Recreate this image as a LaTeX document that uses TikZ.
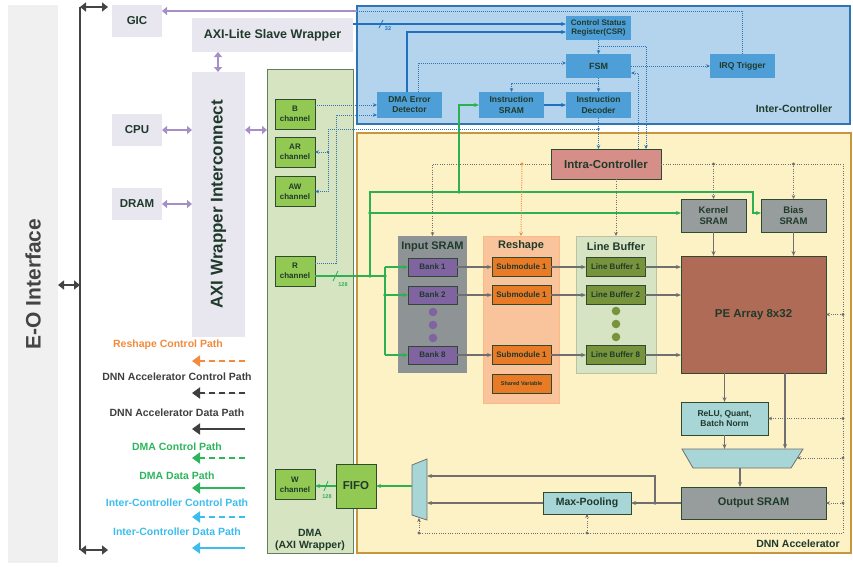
\documentclass[tikz,border=0pt]{standalone}
\usepackage{fontspec}
\setmainfont{Liberation Sans}
\usetikzlibrary{arrows.meta}

\definecolor{txt}{HTML}{1F3A2B}
\definecolor{eobg}{HTML}{F0F0F0}
\definecolor{eotxt}{HTML}{444444}
\definecolor{lavbg}{HTML}{E8E6EE}
\definecolor{purp}{HTML}{A58FC6}
\definecolor{busgrey}{HTML}{444444}
\definecolor{dmabg}{HTML}{D6E4C1}
\definecolor{dmaline}{HTML}{5F7F5F}
\definecolor{chanfill}{HTML}{92C953}
\definecolor{boxline}{HTML}{2F4A2F}
\definecolor{interbg}{HTML}{B3D4EC}
\definecolor{interline}{HTML}{2E75B6}
\definecolor{bluefill}{HTML}{4E9FD8}
\definecolor{dnnbg}{HTML}{FDF1C6}
\definecolor{dnnline}{HTML}{C8963E}
\definecolor{intrafill}{HTML}{D58F88}
\definecolor{sramfill}{HTML}{979C9C}
\definecolor{insgrp}{HTML}{8E9495}
\definecolor{bankfill}{HTML}{8063A1}
\definecolor{resgrp}{HTML}{F9C49B}
\definecolor{subfill}{HTML}{E97A26}
\definecolor{lbgrp}{HTML}{D7E4C4}
\definecolor{lbfill}{HTML}{77933C}
\definecolor{pefill}{HTML}{B06B56}
\definecolor{tealfill}{HTML}{A8D5D6}
\definecolor{datgrey}{HTML}{6F6F6F}
\definecolor{gpath}{HTML}{2DB052}
\definecolor{bpath}{HTML}{1F70C1}
\definecolor{legorange}{HTML}{F18B3D}
\definecolor{legdark}{HTML}{3F3F3F}
\definecolor{leggreen}{HTML}{2DB55C}
\definecolor{legcyan}{HTML}{3CBDEE}

\newcommand{\fsz}[1]{\fontsize{#1pt}{\dimexpr#1pt*6/5\relax}\selectfont}

\tikzset{
  box/.style={inner sep=0pt, outer sep=0pt, text=txt, align=center},
  fs/.style={font=\bfseries\fsz{#1}},
  lavbox/.style={box, fill=lavbg},
  blubox/.style={box, fill=bluefill, fs=8.5, minimum width=65pt, minimum height=25pt},
  chanbox/.style={box, draw=boxline, line width=0.8pt, fill=chanfill, fs=8, minimum width=40pt, minimum height=30pt},
  darkbox/.style={box, draw=boxline, line width=0.9pt},
  bankbox/.style={darkbox, fill=bankfill, fs=8, minimum width=49pt, minimum height=18pt},
  subbox/.style={darkbox, fill=subfill, fs=8, minimum width=59pt, minimum height=19pt},
  lbbox/.style={darkbox, fill=lbfill, fs=8, minimum width=59pt, minimum height=19pt},
  purarrow/.style={draw=purp, line width=2.4pt, {Triangle[length=5pt,width=8pt]}-{Triangle[length=5pt,width=8pt]}},
  bus/.style={draw=busgrey, line width=2.6pt},
  busarrow/.style={bus, {Triangle[length=6pt,width=9pt]}-{Triangle[length=6pt,width=9pt]}},
  ctl/.style={draw=interline, line width=1pt, dash pattern=on 1pt off 1pt, -{Stealth[length=4pt,width=3.5pt]}},
  dat/.style={draw=bpath, line width=1.1pt, -{Stealth[length=5pt,width=4pt]}},
  gdat/.style={draw=gpath, line width=1.1pt, -{Stealth[length=5pt,width=4pt]}},
  kdat/.style={draw=datgrey, line width=1.1pt, -{Stealth[length=5pt,width=4pt]}},
  kctl/.style={draw=datgrey, line width=1pt, dash pattern=on 1pt off 1.3pt, -{Stealth[length=4pt,width=3.5pt]}},
  legline/.style={line width=2.8pt, -{Triangle[length=8pt,width=11pt]}},
  legdash/.style={legline, dash pattern=on 6pt off 4pt},
}

\begin{document}
\begin{tikzpicture}[x=1pt,y=-1pt]
\useasboundingbox (0,0) rectangle (853,566);

% big panels
\node[box, fill=eobg, minimum width=50pt, minimum height=558pt] (eo) at (33,284) {};
\node[rotate=90, fs=21, text=eotxt] (eot) at (eo) {E-O Interface};
\node[box, draw=dmaline, line width=1pt, fill=dmabg, minimum width=86pt, minimum height=484pt] (dma) at (310,311) {};
\node[box, draw=interline, line width=1.6pt, fill=interbg, minimum width=493pt, minimum height=118pt] (inter) at (603.5,65) {};
\node[box, draw=dnnline, line width=1.6pt, fill=dnnbg, minimum width=494pt, minimum height=420pt] (dnn) at (604,343) {};

\node[box, fs=10.5] (dmal) at (310,540) {DMA\\(AXI Wrapper)};
\node[box, fs=10.5] (interl) at (794,109) {Inter-Controller};
\node[box, fs=10.5] (dnnl) at (798,544) {DNN Accelerator};

% system side
\node[lavbox, fs=11.5, minimum width=50pt, minimum height=32pt] (gic) at (137,21) {GIC};
\node[lavbox, fs=11.5, minimum width=50pt, minimum height=32pt] (cpu) at (137,130) {CPU};
\node[lavbox, fs=11.5, minimum width=50pt, minimum height=32pt] (dram) at (137,204) {DRAM};
\node[lavbox, fs=12.5, minimum width=161pt, minimum height=34pt] (axil) at (272.5,35) {AXI-Lite Slave Wrapper};
\node[lavbox, minimum width=53pt, minimum height=265pt] (axi) at (218.5,204.5) {};
\node[rotate=90, fs=17, text=txt] (axit) at (axi) {AXI Wrapper Interconnect};

% E-O bus
\coordinate (bustop) at (80,7);
\coordinate (busbot) at (80,550);
\coordinate (busgic) at (108,7);
\coordinate (busend) at (108,550);
\draw[bus] (bustop) -- (busbot);
\draw[busarrow] (bustop) -- (busgic);
\draw[busarrow] (busbot) -- (busend);
\draw[busarrow] (eo.east |- 0,285) -- (80,285);

% AXI links
\draw[purarrow] (axil.south -| 218,0) -- (axi.north -| 218,0);
\draw[purarrow] (cpu) -- (cpu -| axi.west);
\draw[purarrow] (dram) -- (dram -| axi.west);
\draw[purarrow] (axi.east |- 0,130) -- (dma.west |- 0,130);
\coordinate (irqin) at (357,11);
\draw[draw=purp, line width=2.2pt, -{Triangle[length=5pt,width=8pt]}] (irqin) -- (gic.east |- irqin);

% DMA channels
\node[chanbox] (bchan) at (295,114) {B\\channel};
\node[chanbox] (archan) at (295,152) {AR\\channel};
\node[chanbox] (awchan) at (295,191.5) {AW\\channel};
\node[chanbox] (rchan) at (295,271) {R\\channel};
\node[chanbox] (wchan) at (295,484.5) {W\\channel};
\node[chanbox, fs=11.5, minimum height=44pt] (fifo) at (356,486) {FIFO};

% inter-controller
\node[blubox, fs=8, minimum height=24pt] (csr) at (598.5,28) {Control Status\\Register(CSR)};
\node[blubox, fs=9, minimum height=24pt] (fsm) at (598.5,66) {FSM};
\node[blubox, minimum height=24pt] (irq) at (742.5,66) {IRQ Trigger};
\node[blubox, minimum height=26pt] (ded) at (409.5,105) {DMA Error\\Detector};
\node[blubox, minimum height=26pt] (isram) at (511.5,105) {Instruction\\SRAM};
\node[blubox, minimum height=26pt] (idec) at (598.5,105) {Instruction\\Decoder};

\draw[dat] (axil.east |- 0,24) -- (csr.west |- 0,24);
\draw[bpath, line width=0.8pt] (379,28) -- (383,20); % bus width
\node[box, text=bpath, font=\bfseries\fsz{5.5}] (w32) at (388,29) {32};
\draw[dat] (407,0 |- ded.north) -- (407,32) -- (csr.west |- 0,32);
\draw[dat] (isram) -- (idec);
\draw[ctl] (418,0 |- ded.north) -- (418,63) -- (fsm.west |- 0,63);
\draw[ctl] (csr) -- (fsm);
\draw[ctl] (fsm) -- (irq);
\draw[ctl] (fsm) -- (idec);
\draw[ctl] (598.5,83) -- (isram.north |- 0,83) -- (isram.north);
\draw[ctl, -] (irq.north) -- (irq.north |- irqin) -- (irqin);
\draw[ctl] (bchan.east |- 0,105) -- (ded.west |- 0,105);
\draw[ctl] (rchan.east |- 0,263) -- (336,263) -- (336,115) -- (ded.west |- 0,115);

% DNN accelerator
\node[darkbox, fill=intrafill, fs=11.5, minimum width=110pt, minimum height=30pt] (intra) at (606,164) {Intra-Controller};
\node[darkbox, fill=sramfill, fs=9.5, minimum width=65pt, minimum height=33pt] (kern) at (713.5,215.5) {Kernel\\SRAM};
\node[darkbox, fill=sramfill, fs=9.5, minimum width=65pt, minimum height=33pt] (bias) at (793.5,215.5) {Bias\\SRAM};
\node[darkbox, fill=pefill, fs=11.5, minimum width=145pt, minimum height=117pt] (pe) at (753.5,314.5) {PE Array 8x32};
\node[darkbox, fill=tealfill, fs=8.5, minimum width=87pt, minimum height=33pt] (relu) at (724.5,418.5) {ReLU, Quant,\\Batch Norm};
\node[darkbox, fill=sramfill, fs=11, minimum width=145pt, minimum height=32pt] (osram) at (753.5,503) {Output SRAM};
\node[darkbox, fill=tealfill, fs=10.5, minimum width=88pt, minimum height=22pt] (maxp) at (587,503) {Max-Pooling};

\node[box, fill=insgrp, minimum width=69pt, minimum height=137pt] (insg) at (432.5,304.5) {};
\node[box, draw=resgrp!85!orange, fill=resgrp, minimum width=76pt, minimum height=167pt] (resg) at (521,319.5) {};
\node[box, draw=lbgrp!85!black, fill=lbgrp, minimum width=80pt, minimum height=137pt] (lbg) at (616,304.5) {};
\node[box, fs=11] (inst) at (432.5,247) {Input SRAM};
\node[box, fs=11] (rest) at (521,246) {Reshape};
\node[box, fs=11] (lbt) at (616,247) {Line Buffer};

\foreach \i/\y in {1/267,2/295,8/355}{
    \node[bankbox] (bank\i) at (432.5,\y) {Bank \i};
    \node[subbox] (sub\i) at (521.5,\y) {Submodule 1};
    \node[lbbox] (lb\i) at (615.5,\y) {Line Buffer \i};
    \draw[kdat] (bank\i) -- (sub\i);
    \draw[kdat] (sub\i) -- (lb\i);
    \draw[kdat] (lb\i) -- (lb\i -| pe.west);
}
\node[darkbox, fill=subfill, font=\bfseries\fsz{5.5}, minimum width=59pt, minimum height=19pt] (shv) at (521.5,383.5) {Shared Variable};
\foreach \y in {312,325,338}{
    \fill[bankfill] (433,\y) circle (4.3pt);
    \fill[lbfill] (616,\y-1) circle (4.3pt);
}

% muxes
\draw[draw=datgrey, line width=0.8pt, fill=tealfill] (412,465) -- (427,459) -- (427,520) -- (412,515) -- cycle;
\draw[draw=datgrey, line width=0.8pt, fill=tealfill] (682,449) -- (803,449) -- (791,468) -- (693,468) -- cycle;
\coordinate (m1out) at (412,486);
\coordinate (m1bot) at (419,518);
\coordinate (m2ctl) at (797,458);

% data paths
\draw[kdat] (kern) -- (kern |- pe.north);
\draw[kdat] (bias) -- (bias |- pe.north);
\draw[kdat] (relu.north |- pe.south) -- (relu.north);
\draw[kdat] (785,0 |- pe.south) -- (785,449);
\draw[kdat] (relu) -- (relu |- 0,449);
\draw[kdat] (740,468) -- (740,0 |- osram.north);
\draw[kdat] (osram.west) -- (maxp.east);
\draw[kdat] (655,503) -- (655,476) -- (427,476);
\draw[kdat] (maxp.west) -- (427,503);
\fill[datgrey] (655,503) circle (1.8pt);

% green paths
\draw[gdat, -] (rchan.east |- 0,276) -- (385,276);
\draw[gpath, line width=0.8pt] (333,281) -- (338,271); % bus width
\node[box, text=gpath, font=\bfseries\fsz{5.5}] (w128r) at (343,285) {128};
\draw[gdat] (370,276) -- (370,192) -- (753,192) -- (753,213) -- (bias.west |- 0,213);
\draw[gdat] (370,213) -- (kern.west |- 0,213);
\draw[gdat] (459,192) -- (459,105) -- (isram.west |- 0,105);
\draw[gpath, line width=1.1pt] (385,267) -- (385,355);
\foreach \i in {1,2,8}
    \draw[gdat] (385,0 |- bank\i) -- (bank\i);
\foreach \p in {(370,276),(385,276),(370,213),(459,192),(385,295)}
    \fill[gpath] \p circle (1.8pt);
\draw[gdat] (m1out) -- (fifo.east |- m1out);
\draw[gdat] (fifo.west) -- (wchan.east |- fifo.west);
\draw[gpath, line width=0.8pt] (324,491) -- (328,481); % bus width
\node[box, text=gpath, font=\bfseries\fsz{5.5}] (w128w) at (327,497) {128};

% control paths
\draw[ctl] (idec) -- (idec |- intra.north);
\draw[ctl] (638,0 |- intra.north) -- (638,73) -- (fsm.east |- 0,73);
\draw[ctl] (598.5,46) -- (646,46) -- (646,0 |- intra.north);
\draw[ctl] (598.5,129) -- (328,129) -- (328,0 |- awchan) -- (awchan);
\draw[ctl] (328,0 |- archan) -- (archan);
\fill[interline] (598.5,129) circle (1.3pt);
\fill[interline] (328,152) circle (1.3pt);

\draw[kctl] (intra.west) -- (432.5,164) -- (insg.north);
\draw[kctl, draw=legorange] (522,164) -- (resg.north);
\fill[legorange] (522,164) circle (1.6pt);
\draw[kctl] (616,0 |- intra.south) -- (lbg.north);
\draw[kctl, -] (intra.east) -- (843,164) -- (843,533) -- (419,533);
\draw[kctl] (419,533) -- (m1bot);
\draw[kctl] (713.5,164) -- (kern.north);
\draw[kctl] (793.5,164) -- (bias.north);
\draw[kctl] (843,0 |- pe) -- (pe);
\draw[kctl] (843,0 |- relu) -- (relu);
\draw[kctl] (843,458) -- (m2ctl);
\draw[kctl] (843,0 |- osram) -- (osram);
\draw[kctl] (maxp |- 0,533) -- (maxp);
\foreach \p in {(713.5,164),(793.5,164),(843,314.5),(843,418.5),(843,458),(843,503),(587,533),(419,533)}
    \fill[datgrey] \p circle (1.6pt);

% legend
\node[box, fs=10.5, text=legorange] (lg1) at (168,345) {Reshape Control Path};
\node[box, fs=10.5, text=legdark] (lg2) at (177,377) {DNN Accelerator Control Path};
\node[box, fs=10.5, text=legdark] (lg3) at (177,413) {DNN Accelerator Data Path};
\node[box, fs=10.5, text=leggreen] (lg4) at (177,447) {DMA Control Path};
\node[box, fs=10.5, text=leggreen] (lg5) at (177,476) {DMA Data Path};
\node[box, fs=10.5, text=legcyan] (lg6) at (177,503) {Inter-Controller Control Path};
\node[box, fs=10.5, text=legcyan] (lg7) at (177,532) {Inter-Controller Data Path};
\foreach \c/\y/\s in {legorange/361/legdash,legdark/393/legdash,legdark/429/legline,leggreen/458/legdash,leggreen/488/legline,legcyan/517/legdash,legcyan/548/legline}{
    \coordinate (la) at (245,\y);
    \coordinate (lb) at (192,\y);
    \draw[\s, draw=\c, fill=\c] (la) -- (lb);
}
\end{tikzpicture}
\end{document}
